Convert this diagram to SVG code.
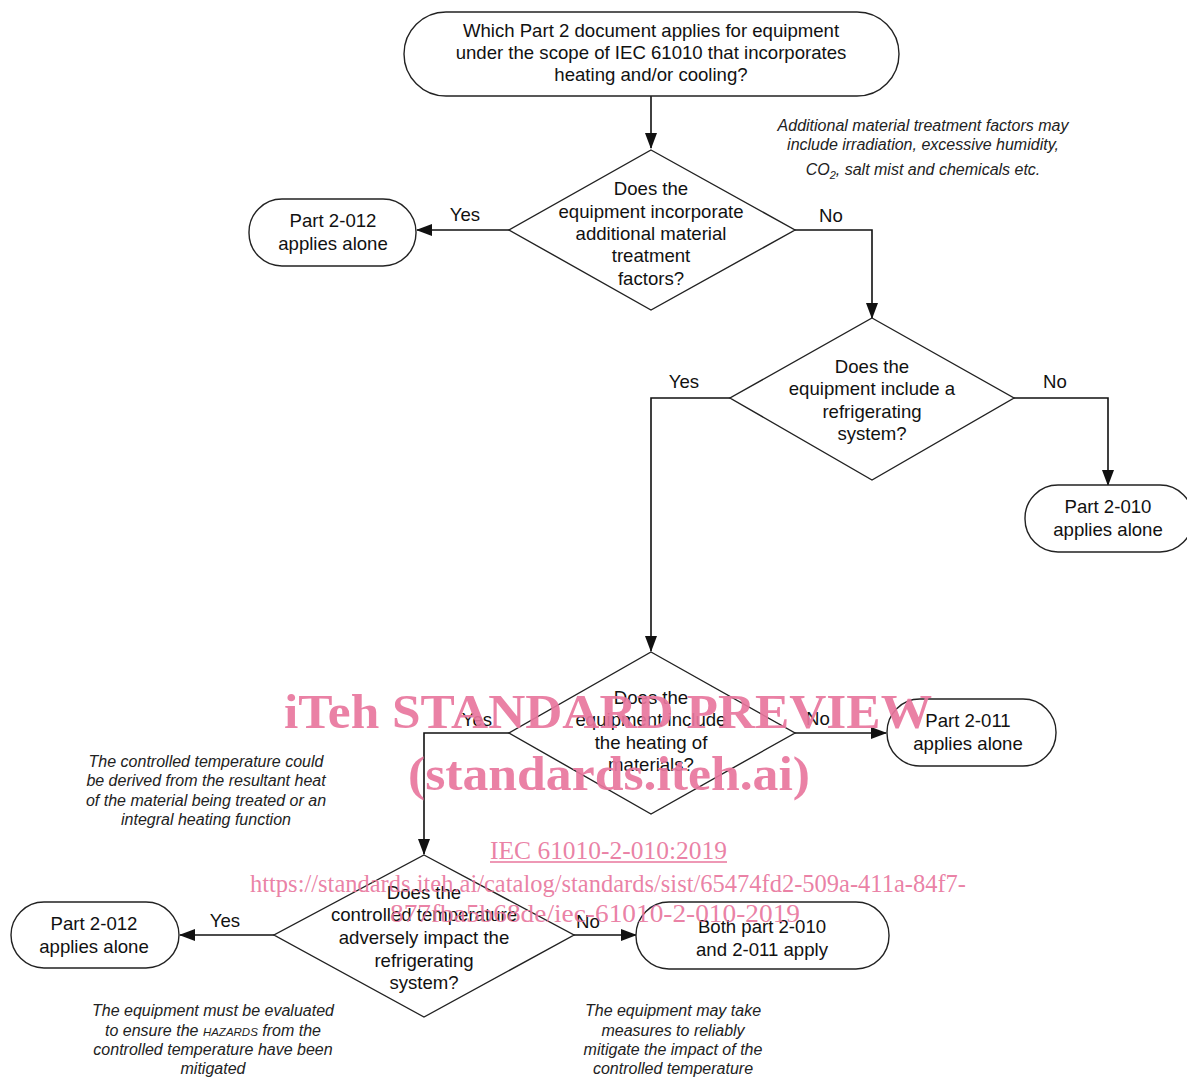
<svg xmlns="http://www.w3.org/2000/svg" width="1187" height="1077" viewBox="0 0 1187 1077">
<style>
.shape{fill:#fff;stroke:#222;stroke-width:1.4}
.t{font-family:"Liberation Sans",Arial,sans-serif;font-size:18.6px;fill:#111;text-anchor:middle}
.lbl{font-family:"Liberation Sans",Arial,sans-serif;font-size:18.6px;fill:#111;text-anchor:middle}
.note{font-family:"Liberation Sans",Arial,sans-serif;font-size:16px;font-style:italic;fill:#222;text-anchor:middle}
.conn{fill:none;stroke:#111;stroke-width:1.6}
.wm{font-family:"Liberation Serif","Times New Roman",serif;fill:#e8769d;fill-opacity:0.92}
</style>
<defs>
<marker id="ah" markerWidth="16" markerHeight="12" refX="15" refY="6" orient="auto" markerUnits="userSpaceOnUse">
<path d="M0,0 L16,6 L0,12 Z" fill="#111"/>
</marker>
</defs>
<rect width="1187" height="1077" fill="#fff"/>

<g id="connectors">
<path class="conn" d="M651,96 L651,148" marker-end="url(#ah)"/>
<path class="conn" d="M509,230 L417,230" marker-end="url(#ah)"/>
<path class="conn" d="M795,230 L872,230 L872,318" marker-end="url(#ah)"/>
<path class="conn" d="M730,398 L651,398 L651,651" marker-end="url(#ah)"/>
<path class="conn" d="M1014,398 L1108,398 L1108,485" marker-end="url(#ah)"/>
<path class="conn" d="M795,733 L886,733" marker-end="url(#ah)"/>
<path class="conn" d="M509,733 L424,733 L424,854" marker-end="url(#ah)"/>
<path class="conn" d="M274,935 L180,935" marker-end="url(#ah)"/>
<path class="conn" d="M574,935 L636,935" marker-end="url(#ah)"/>
<text class="lbl" x="465" y="221">Yes</text>
<text class="lbl" x="831" y="222">No</text>
<text class="lbl" x="684" y="388">Yes</text>
<text class="lbl" x="1055" y="388">No</text>
<text class="lbl" x="477" y="726">Yes</text>
<text class="lbl" x="818" y="725">No</text>
<text class="lbl" x="225" y="927">Yes</text>
<text class="lbl" x="588" y="928">No</text>
</g>

<g id="start">
<rect class="shape" x="404" y="12" width="495" height="84" rx="42" ry="42"/>
<text class="t" x="651" y="37">Which Part 2 document applies for equipment</text>
<text class="t" x="651" y="59">under the scope of IEC 61010 that incorporates</text>
<text class="t" x="651" y="81">heating and/or cooling?</text>
</g>

<g id="d1">
<polygon class="shape" points="651,150 795,230 651,310 509,230"/>
<text class="t" x="651" y="195">Does the</text>
<text class="t" x="651" y="218">equipment incorporate</text>
<text class="t" x="651" y="240">additional material</text>
<text class="t" x="651" y="262">treatment</text>
<text class="t" x="651" y="285">factors?</text>
</g>

<g id="t1">
<rect class="shape" x="249" y="199" width="167" height="67" rx="33" ry="33"/>
<text class="t" x="333" y="227">Part 2-012</text>
<text class="t" x="333" y="250">applies alone</text>
</g>

<g id="note1">
<text class="note" x="923" y="131">Additional material treatment factors may</text>
<text class="note" x="923" y="150">include irradiation, excessive humidity,</text>
<text class="note" x="923" y="175">CO<tspan font-size="11" dy="4">2</tspan><tspan dy="-4">, salt mist and chemicals etc.</tspan></text>
</g>

<g id="d2">
<polygon class="shape" points="872,318 1014,398 872,480 730,398"/>
<text class="t" x="872" y="373">Does the</text>
<text class="t" x="872" y="395">equipment include a</text>
<text class="t" x="872" y="418">refrigerating</text>
<text class="t" x="872" y="440">system?</text>
</g>

<g id="t2">
<rect class="shape" x="1025" y="485" width="168" height="67" rx="33" ry="33"/>
<text class="t" x="1108" y="513">Part 2-010</text>
<text class="t" x="1108" y="536">applies alone</text>
</g>

<g id="d3">
<polygon class="shape" points="651,652 795,733 651,814 509,733"/>
<text class="t" x="651" y="704">Does the</text>
<text class="t" x="651" y="726">equipment include</text>
<text class="t" x="651" y="749">the heating of</text>
<text class="t" x="651" y="771">materials?</text>
</g>

<g id="t3">
<rect class="shape" x="887" y="699" width="169" height="67" rx="33" ry="33"/>
<text class="t" x="968" y="727">Part 2-011</text>
<text class="t" x="968" y="750">applies alone</text>
</g>

<g id="note2">
<text class="note" x="206" y="767">The controlled temperature could</text>
<text class="note" x="206" y="786">be derived from the resultant heat</text>
<text class="note" x="206" y="806">of the material being treated or an</text>
<text class="note" x="206" y="825">integral heating function</text>
</g>

<g id="d4">
<polygon class="shape" points="424,855 574,935 424,1017 274,935"/>
<text class="t" x="424" y="899">Does the</text>
<text class="t" x="424" y="921">controlled temperature</text>
<text class="t" x="424" y="944">adversely impact the</text>
<text class="t" x="424" y="967">refrigerating</text>
<text class="t" x="424" y="989">system?</text>
</g>

<g id="t4">
<rect class="shape" x="11" y="902" width="168" height="66" rx="33" ry="33"/>
<text class="t" x="94" y="930">Part 2-012</text>
<text class="t" x="94" y="953">applies alone</text>
</g>

<g id="t5">
<rect class="shape" x="636" y="902" width="253" height="67" rx="33" ry="33"/>
<text class="t" x="762" y="933">Both part 2-010</text>
<text class="t" x="762" y="956">and 2-011 apply</text>
</g>

<g id="note3">
<text class="note" x="213" y="1016">The equipment must be evaluated</text>
<text class="note" x="213" y="1036">to ensure the <tspan font-size="11.5">HAZARDS</tspan> from the</text>
<text class="note" x="213" y="1055">controlled temperature have been</text>
<text class="note" x="213" y="1074">mitigated</text>
</g>

<g id="note4">
<text class="note" x="673" y="1016">The equipment may take</text>
<text class="note" x="673" y="1036">measures to reliably</text>
<text class="note" x="673" y="1055">mitigate the impact of the</text>
<text class="note" x="673" y="1074">controlled temperature</text>
</g>

<g id="watermark">
<text class="wm" x="284" y="728" font-size="48" font-weight="bold" textLength="648" lengthAdjust="spacingAndGlyphs">iTeh STANDARD PREVIEW</text>
<text class="wm" x="408" y="790" font-size="48" font-weight="bold" textLength="402" lengthAdjust="spacingAndGlyphs">(standards.iteh.ai)</text>
<text class="wm" x="490" y="859" font-size="26" textLength="237" lengthAdjust="spacingAndGlyphs">IEC 61010-2-010:2019</text>
<line x1="490" y1="862" x2="727" y2="862" stroke="#e8769d" stroke-width="1.3"/>
<text class="wm" x="250" y="892" font-size="26" textLength="716" lengthAdjust="spacingAndGlyphs">https://standards.iteh.ai/catalog/standards/sist/65474fd2-509a-411a-84f7-</text>
<text class="wm" x="390" y="922" font-size="26" textLength="410" lengthAdjust="spacingAndGlyphs">877fba5b68de/iec-61010-2-010-2019</text>
</g>
</svg>
